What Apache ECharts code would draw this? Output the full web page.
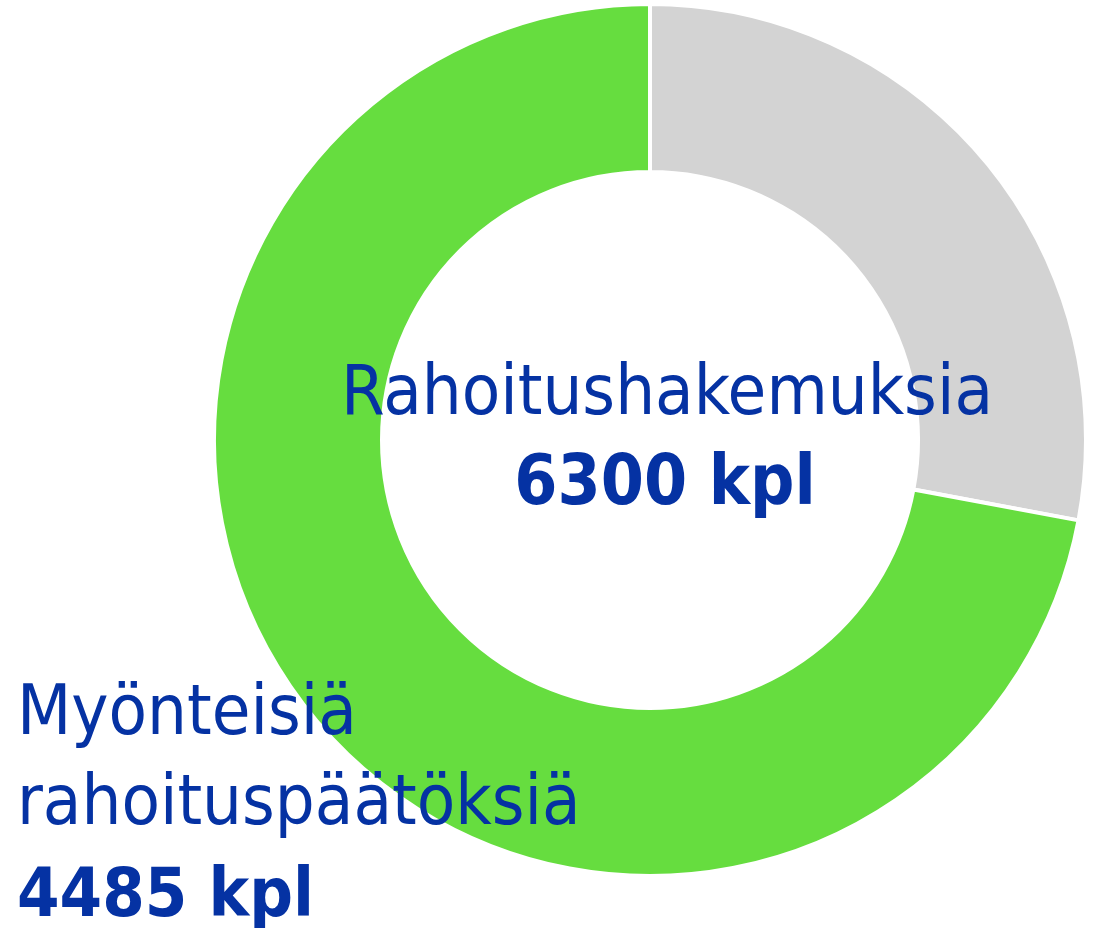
<!DOCTYPE html>
<html>
<head>
<meta charset="utf-8">
<script src="https://cdn.jsdelivr.net/npm/echarts@6/dist/echarts.min.js"></script>
<style>
  html, body { margin: 0; padding: 0; background: #fff; }
  #chart { width: 1096px; height: 928px; }
</style>
</head>
<body>
<div id="chart"></div>
<script>
// data
var sliceNames = ['Muut hakemukset', 'Myönteisiä rahoituspäätöksiä'];
var sliceValues = [1740, 4485];
var sliceColors = ['#d3d3d3', '#66dd3f'];
var totalLabel = ['Rahoitushakemuksia', '6300 kpl'];
var positiveLabel = ['Myönteisiä', 'rahoituspäätöksiä', '4485 kpl'];

var blue = '#0532a3';
var font = '"DejaVu Sans Condensed", "Liberation Sans Narrow", sans-serif';

var chart = echarts.init(document.getElementById('chart'));

var pieData = [];
for (var i = 0; i < sliceValues.length; i++) {
    pieData.push({ name: sliceNames[i], value: sliceValues[i], itemStyle: { color: sliceColors[i] } });
}

function txt(x, y, text, size, weight, align) {
    return {
        type: 'text', z: 100,
        style: {
            x: x, y: y, text: text,
            fill: blue, font: weight + ' ' + size + 'px ' + font,
            textAlign: align, textVerticalAlign: 'bottom'
        }
    };
}

var option = {
    animation: false,
    series: [{
        type: 'pie',
        center: [650, 440],
        radius: [268, 436],
        startAngle: 90,
        clockwise: true,
        silent: true,
        label: { show: false },
        labelLine: { show: false },
        itemStyle: { borderColor: '#fff', borderWidth: 4 },
        data: pieData
    }],
    graphic: [
        txt(667, 431, totalLabel[0], 70, 'normal', 'center'),
        txt(665, 521, totalLabel[1], 69, 'bold', 'center'),
        txt(17, 751, positiveLabel[0], 70, 'normal', 'left'),
        txt(17, 841, positiveLabel[1], 70, 'normal', 'left'),
        txt(17, 932, positiveLabel[2], 68, 'bold', 'left')
    ]
};
chart.setOption(option);
</script>
</body>
</html>
